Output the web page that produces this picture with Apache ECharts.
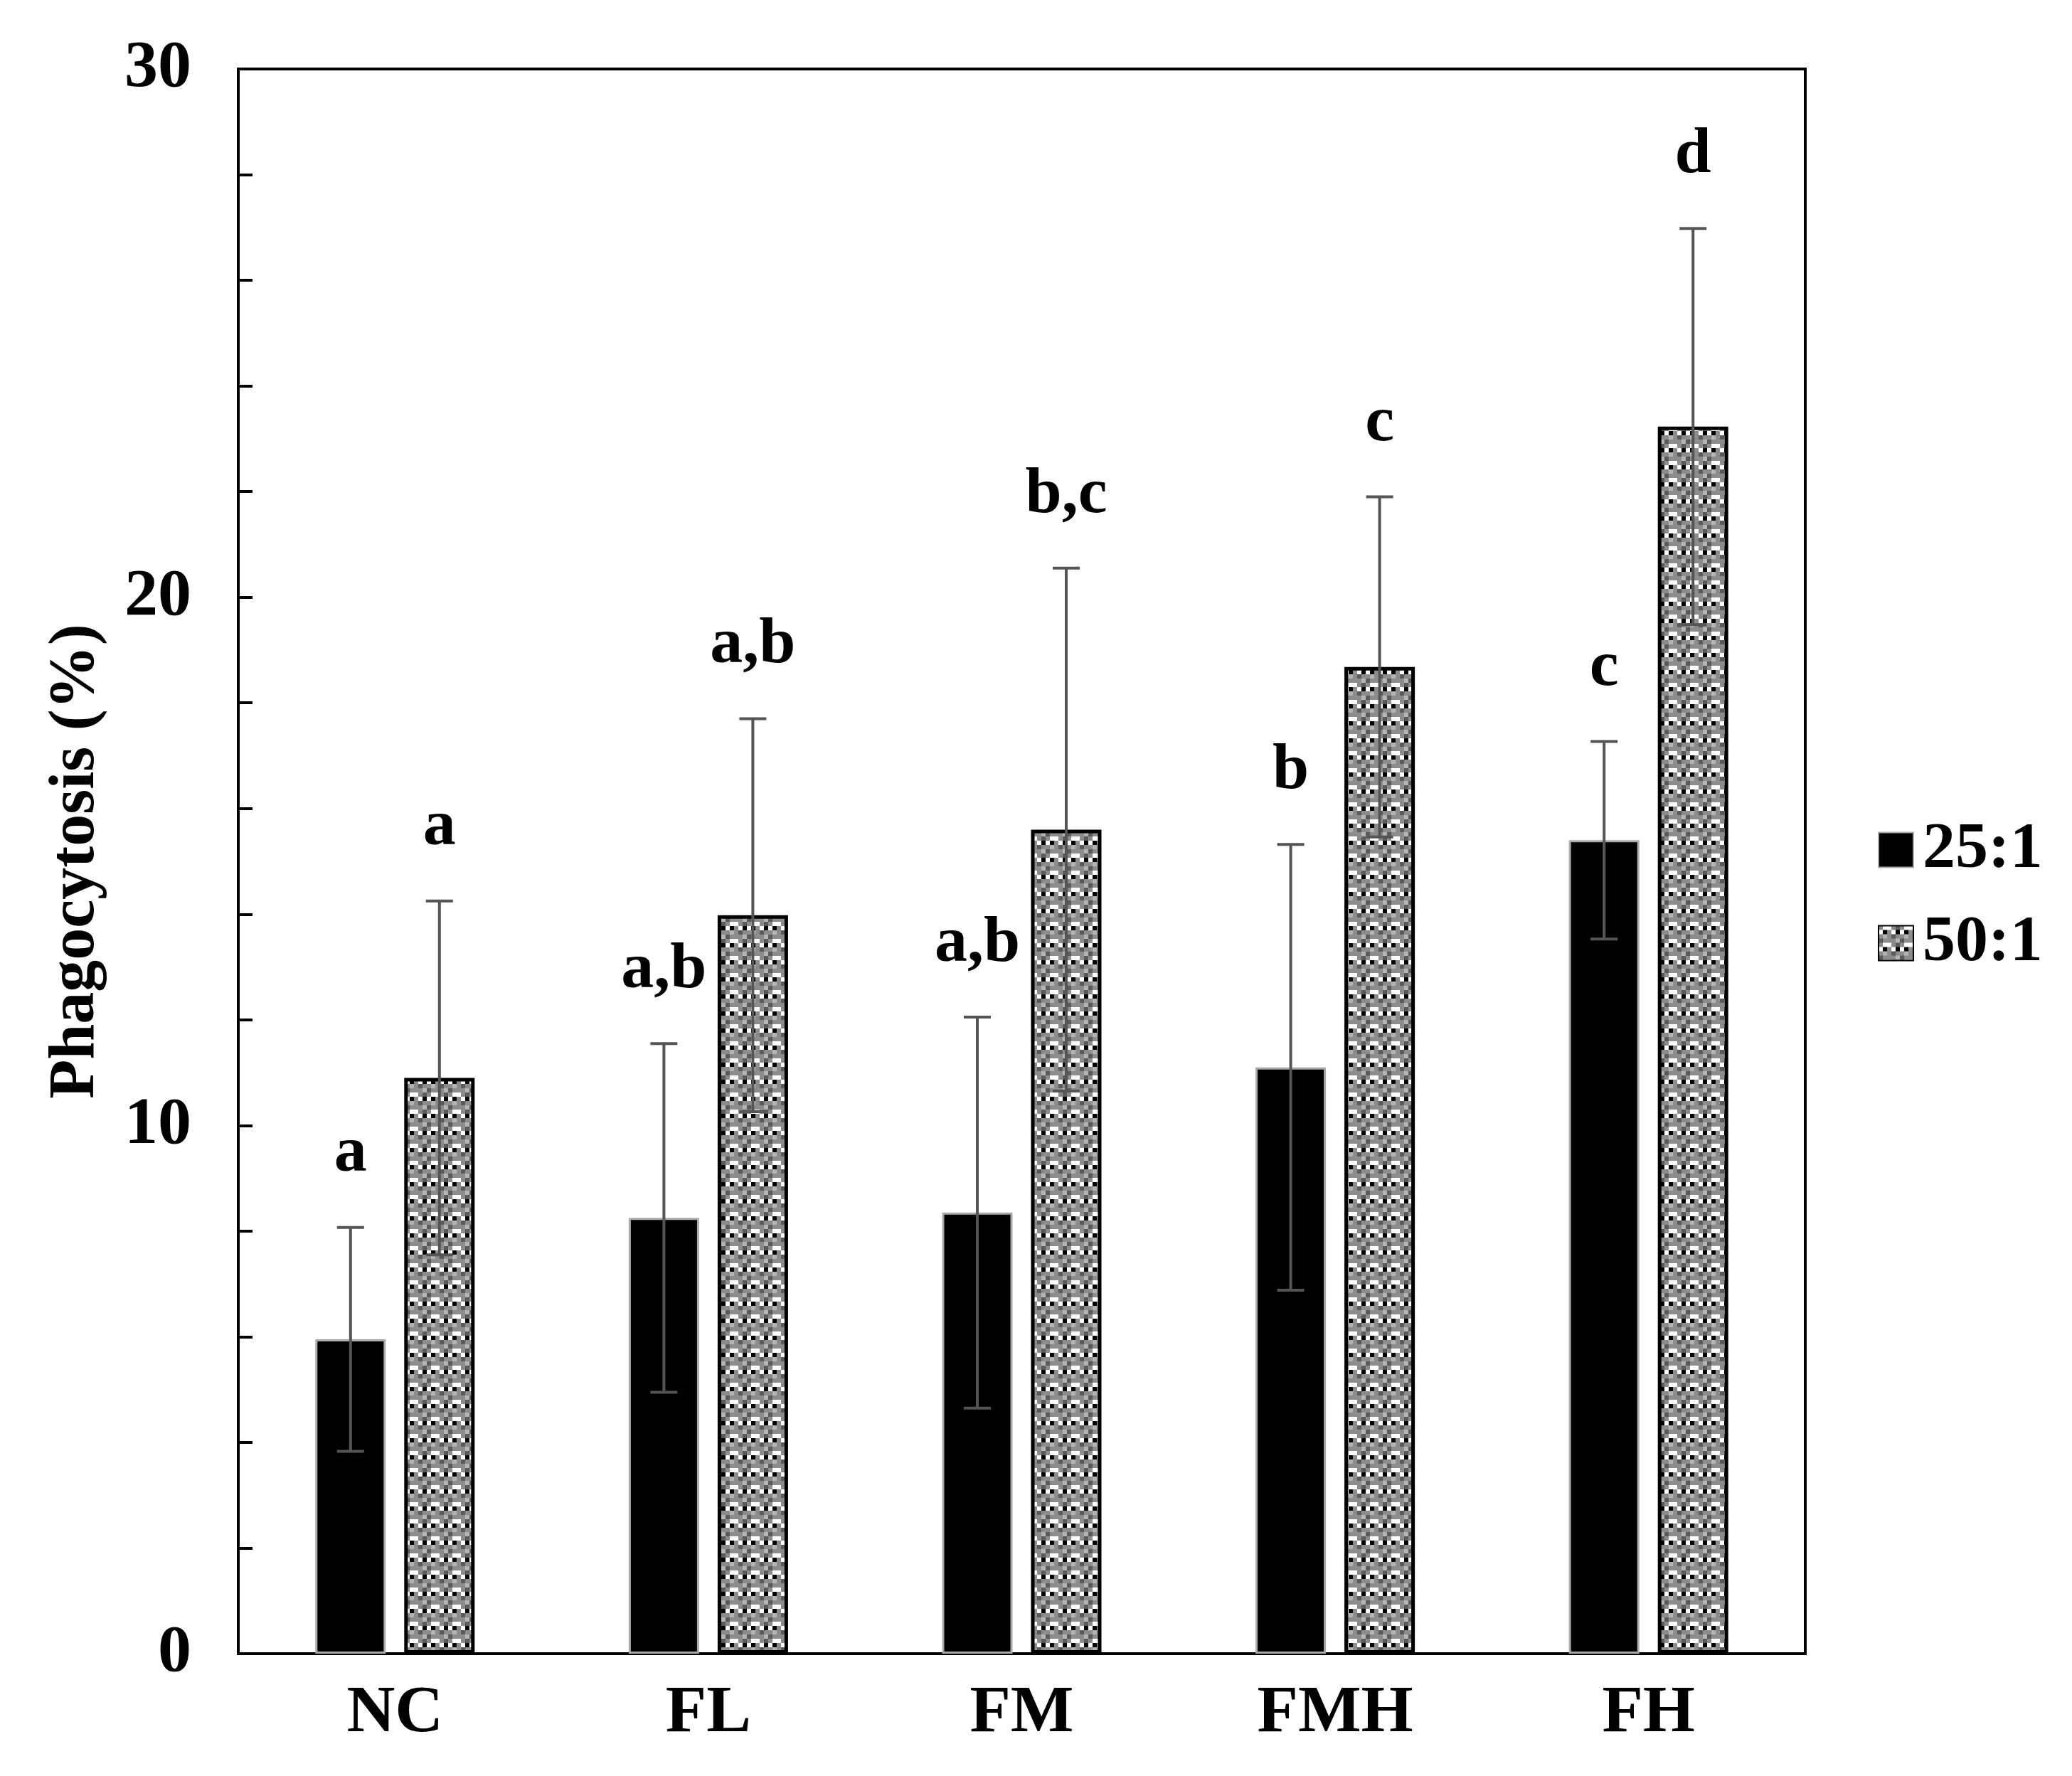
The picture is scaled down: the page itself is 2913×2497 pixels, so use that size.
<!DOCTYPE html>
<html>
<head>
<meta charset="utf-8">
<script src="https://cdn.jsdelivr.net/npm/echarts@6/dist/echarts.min.js"></script>
<style>
html,body{margin:0;padding:0;background:#fff;}
#main{width:2913px;height:2497px;}
</style>
</head>
<body>
<div id="main"></div>
<script>
var categories = ['NC', 'FL', 'FM', 'FMH', 'FH'];
var seriesNames = ['25:1', '50:1'];
var mean25 = [5.95, 8.25, 8.35, 11.1, 15.4];
var sd25 = [2.12, 3.3, 3.7, 4.22, 1.87];
var mean50 = [10.9, 13.98, 15.6, 18.68, 23.23];
var sd50 = [3.35, 3.72, 4.95, 3.22, 3.75];
var letters25 = ['a', 'a,b', 'a,b', 'b', 'c'];
var letters50 = ['a', 'a,b', 'b,c', 'c', 'd'];
var yTickLabels = ['0', '10', '20', '30'];

var FONT = "'Liberation Serif', 'Times New Roman', serif";
var BAR_W = 99;
var BAR_GAP = 26;

// dotted fill for the 50:1 bars
var makePattern = function() {
	var c = document.createElement('canvas');
	var cell = 6;
	var g = '#8c8c8c', w = '#ffffff', k = '#000000', d = '#5a5a5a', l = '#b4b4b4';
	var rows = [
		[g, w, w, g, d],
		[w, k, g, w, k],
		[g, l, g, d, g],
		[d, g, g, g, l]
	];
	c.width = cell * rows[0].length;
	c.height = cell * rows.length;
	var ctx = c.getContext('2d');
	for (var r = 0; r < rows.length; r++) {
		for (var n = 0; n < rows[r].length; n++) {
			ctx.fillStyle = rows[r][n];
			ctx.fillRect(n * cell, r * cell, cell, cell);
		}
	}
	return c;
};

var errorData = function(means, sds, letters) {
	var out = [];
	for (var i = 0; i < means.length; i++) {
		out.push([i, means[i] - sds[i], means[i] + sds[i], letters[i]]);
	}
	return out;
};

var errorRenderer = function(shift) {
	return function(params, api) {
		var lo = api.coord([api.value(0), api.value(1)]);
		var hi = api.coord([api.value(0), api.value(2)]);
		var x = lo[0] + shift;
		var cap = 19;
		var st = {stroke: '#555555', lineWidth: 4};
		return {
			type: 'group',
			children: [
				{type: 'line', shape: {x1: x, y1: lo[1], x2: x, y2: hi[1]}, style: st},
				{type: 'line', shape: {x1: x - cap, y1: lo[1], x2: x + cap, y2: lo[1]}, style: st},
				{type: 'line', shape: {x1: x - cap, y1: hi[1], x2: x + cap, y2: hi[1]}, style: st},
				{type: 'text', style: {
					text: api.value(3), x: x, y: hi[1] - 103,
					fill: '#000', fontFamily: FONT, fontWeight: 'bold', fontSize: 92,
					align: 'center', verticalAlign: 'middle'
				}}
			]
		};
	};
};

var chart = echarts.init(document.getElementById('main'));
var half = (BAR_W + BAR_GAP) / 2;

var option = {
	backgroundColor: '#fff',
	animation: false,
	grid: {
		left: 335, right: 375, top: 97, bottom: 172,
		show: true, borderColor: '#000', borderWidth: 4
	},
	legend: {
		data: seriesNames,
		orient: 'vertical',
		left: 2635, top: 1144,
		icon: 'rect',
		itemWidth: 49, itemHeight: 49, itemGap: 39,
		textStyle: {fontFamily: FONT, fontWeight: 'bold', fontSize: 92, color: '#000', padding: [0, 0, 0, 8]}
	},
	xAxis: {
		type: 'category',
		data: categories,
		axisLine: {lineStyle: {color: '#000', width: 4}},
		axisTick: {show: false},
		axisLabel: {margin: 38, fontFamily: FONT, fontWeight: 'bold', fontSize: 94, color: '#000'}
	},
	yAxis: {
		type: 'value',
		min: 0, max: 30, interval: 2,
		name: 'Phagocytosis (%)',
		nameLocation: 'middle',
		nameGap: 182,
		nameTextStyle: {fontFamily: FONT, fontWeight: 'bold', fontSize: 90, color: '#000'},
		axisLine: {show: true, lineStyle: {color: '#000', width: 4}},
		axisTick: {show: true, inside: true, length: 20, lineStyle: {color: '#000', width: 4}},
		splitLine: {show: false},
		axisLabel: {
			margin: 66, fontFamily: FONT, fontWeight: 'bold', fontSize: 94, color: '#000',
			formatter: function(v) {
				return v % 10 === 0 ? yTickLabels[v / 10] : '';
			}
		}
	},
	series: [
		{
			name: seriesNames[0], type: 'bar', data: mean25,
			barWidth: BAR_W, barGap: (BAR_GAP / BAR_W * 100) + '%',
			itemStyle: {color: '#000', borderColor: '#aaaaaa', borderWidth: 3}
		},
		{
			name: seriesNames[1], type: 'bar', data: mean50,
			barWidth: BAR_W,
			itemStyle: {color: {image: makePattern(), repeat: 'repeat'}, borderColor: '#000', borderWidth: 5}
		},
		{
			type: 'custom', data: errorData(mean25, sd25, letters25),
			renderItem: errorRenderer(-half), z: 5, clip: false
		},
		{
			type: 'custom', data: errorData(mean50, sd50, letters50),
			renderItem: errorRenderer(half), z: 5, clip: false
		}
	]
};
chart.setOption(option);
</script>
</body>
</html>
